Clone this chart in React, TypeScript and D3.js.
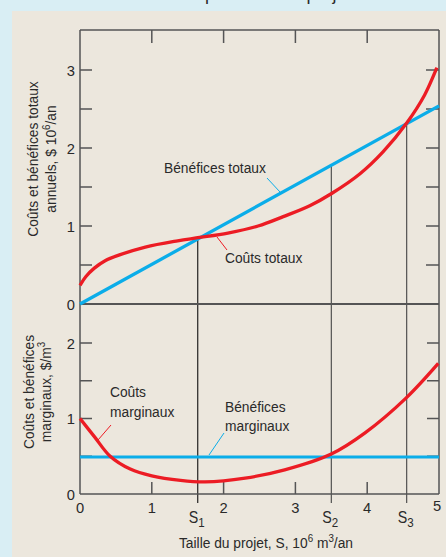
import React from "react";
import * as d3 from "d3";

// ---- data ----
const xTicks = [0, 1, 2, 3, 4, 5];
const yTopTicks = [0.5, 1, 1.5, 2, 2.5, 3];
const yTopLabels = [0, 1, 2, 3];
const yBotTicks = [0.5, 1, 1.5, 2];
const yBotLabels = [0, 1, 2];

// total costs (top panel)
const tcX = [0, 0.08, 0.2, 0.35, 0.55, 0.91, 1.36, 1.64, 2.06, 2.48, 2.83, 3.2, 3.51, 3.9, 4.22, 4.55, 4.8, 4.97];
const tcY = [0.24, 0.35, 0.46, 0.555, 0.63, 0.73, 0.81, 0.85, 0.91, 1.0, 1.12, 1.26, 1.42, 1.67, 1.95, 2.32, 2.68, 3.03];
// total benefits (top panel)
const tbX = [0, 5];
const tbY = [0, 2.54];
// marginal costs (bottom panel)
const mcX = [0, 0.2, 0.42, 0.7, 1.0, 1.4, 1.74, 2.3, 2.85, 3.5, 3.97, 4.54, 4.99];
const mcY = [1.0, 0.76, 0.5, 0.33, 0.24, 0.18, 0.16, 0.21, 0.32, 0.53, 0.81, 1.27, 1.73];
// marginal benefits (bottom panel)
const mbX = [0, 5];
const mbY = [0.49, 0.49];
// project sizes S1, S2, S3
const sNames = ["1", "2", "3"];
const sValues = [1.64, 3.5, 4.55];

const RED = "#ec1c24";
const BLUE = "#0bade9";
const AX = "#555555";
const FONT = "'Liberation Sans', Arial, sans-serif";
const SX = 0.89;

const x = d3.scaleLinear().domain([0, 5]).range([80, 439]);
const yT = d3.scaleLinear().domain([0, 3]).range([304, 70]);
const yB = d3.scaleLinear().domain([0, 2]).range([494, 343]);

const zip = (a: number[], b: number[]) => a.map((v, i) => [v, b[i]] as [number, number]);

function T({ x: tx, y: ty, anchor = "start", size = 15.5, rot = false, children, fill = "#2a2a2a", sx = SX }: any) {
  const tr = `translate(${tx},${ty})${rot ? " rotate(-90)" : ""} scale(${sx},1)`;
  return (
    <text transform={tr} textAnchor={anchor} fontSize={size} fontFamily={FONT} fill={fill}>
      {children}
    </text>
  );
}

export default function App() {
  const lineT = d3.line<[number, number]>().x(d => x(d[0])).y(d => yT(d[1])).curve(d3.curveCatmullRom.alpha(0.5));
  const lineB = d3.line<[number, number]>().x(d => x(d[0])).y(d => yB(d[1])).curve(d3.curveCatmullRom.alpha(0.5));
  const tbAt = (v: number) => tbY[0] + ((tbY[1] - tbY[0]) * (v - tbX[0])) / (tbX[1] - tbX[0]);

  const x0 = x(0), x5 = x(5);
  const yTop = 30, yMid = yT(0), yBot = yB(0);

  return (
    <svg width={446} height={557} style={{ position: "absolute", left: 0, top: 0 }}>
      <rect x={0} y={0} width={446} height={557} fill="#d9eef4" />
      <rect x={12} y={11} width={434} height={546} fill="#ece7dd" />
      {/* title, cut off at the top edge as in the reference */}
      <text x={149} y={-0.5} fontSize={18} fontFamily={FONT} fill="#2a2a2a">Taille optimale d'un projet</text>

      {/* S lines */}
      {sValues.map((s, i) => (
        <line key={"s" + i} x1={x(s)} x2={x(s)} y1={yT(tbAt(s))} y2={503} stroke={i === 0 ? "#111" : "#444"} strokeWidth={1.1} />
      ))}

      {/* frame */}
      <g stroke={AX} strokeWidth={1.5} fill="none">
        <line x1={x0} x2={x5} y1={yTop} y2={yTop} />
        <line x1={x0} x2={x5} y1={yMid} y2={yMid} strokeWidth={2} />
        <line x1={x0} x2={x5} y1={yBot} y2={yBot} />
        <line x1={x0} x2={x0} y1={yTop} y2={yBot} />
        <line x1={x5} x2={x5} y1={yTop} y2={yBot} />
        {yTopTicks.map(v => (
          <g key={"tt" + v}>
            <line x1={x0} x2={x0 + 12} y1={yT(v)} y2={yT(v)} />
            <line x1={x5 - 13} x2={x5} y1={yT(v)} y2={yT(v)} />
          </g>
        ))}
        {yBotTicks.map(v => (
          <g key={"bt" + v}>
            <line x1={x0} x2={x0 + 12} y1={yB(v)} y2={yB(v)} />
            <line x1={x5 - 12} x2={x5} y1={yB(v)} y2={yB(v)} />
          </g>
        ))}
        {xTicks.slice(1, 5).map(v => (
          <g key={"xt" + v}>
            <line x1={x(v)} x2={x(v)} y1={yTop} y2={yTop + 13} />
            <line x1={x(v)} x2={x(v)} y1={yBot - 12} y2={yBot} />
          </g>
        ))}
      </g>

      {/* curves */}
      <path d={lineT(zip(tbX, tbY)) || ""} stroke={BLUE} strokeWidth={3.3} fill="none" />
      <path d={lineT(zip(tcX, tcY)) || ""} stroke={RED} strokeWidth={3.3} fill="none" />
      <path d={lineB(zip(mbX, mbY)) || ""} stroke={BLUE} strokeWidth={3.2} fill="none" />
      <path d={lineB(zip(mcX, mcY)) || ""} stroke={RED} strokeWidth={3.3} fill="none" />

      {/* leaders */}
      <line x1={267} y1={178} x2={280} y2={192} stroke={BLUE} strokeWidth={1} />
      <line x1={217} y1={237} x2={227} y2={250} stroke={RED} strokeWidth={1} />
      <line x1={111} y1={425} x2={98} y2={440} stroke={RED} strokeWidth={1} />
      <line x1={224} y1={433} x2={209} y2={455} stroke={BLUE} strokeWidth={1} />

      {/* curve labels */}
      <T x={164} y={173}>Bénéfices totaux</T>
      <T x={225} y={263}>Coûts totaux</T>
      <T x={110} y={397}>Coûts</T>
      <T x={110} y={417}>marginaux</T>
      <T x={225} y={412}>Bénéfices</T>
      <T x={225} y={431}>marginaux</T>

      {/* tick labels */}
      {yTopLabels.map(v => (
        <T key={"yl" + v} x={75} y={yT(v) + 5.5} anchor="end" sx={0.95}>{v}</T>
      ))}
      {yBotLabels.map(v => (
        <T key={"ybl" + v} x={75} y={yB(v) + 5.5} anchor="end" sx={0.95}>{v}</T>
      ))}
      {xTicks.map(v => (
        <T key={"xl" + v} x={x(v) - (v === 5 ? 2 : 0)} y={v === 5 ? 511 : 513} anchor="middle" sx={0.95}>{v}</T>
      ))}
      {sValues.map((s, i) => (
        <text key={"sl" + i} transform={`translate(${x(s) - 9},523) scale(${SX},1)`} fontSize={16} fontFamily={FONT} fill="#2a2a2a">
          S<tspan dy={4} fontSize={13}>{sNames[i]}</tspan>
        </text>
      ))}

      {/* axis titles */}
      <T x={266} y={548} anchor="middle">
        Taille du projet, S, 10<tspan dy={-6} fontSize={11}>6</tspan><tspan dy={6}> m</tspan><tspan dy={-6} fontSize={11}>3</tspan><tspan dy={6}>/an</tspan>
      </T>
      <T x={38} y={159} anchor="middle" rot>Coûts et bénéfices totaux</T>
      <T x={56} y={159} anchor="middle" rot>
        annuels, $ 10<tspan dy={-6} fontSize={11}>6</tspan><tspan dy={6}>/an</tspan>
      </T>
      <T x={34} y={392} anchor="middle" rot>Coûts et bénéfices</T>
      <T x={51} y={392} anchor="middle" rot>
        marginaux, $/m<tspan dy={-6} fontSize={11}>3</tspan>
      </T>
    </svg>
  );
}
